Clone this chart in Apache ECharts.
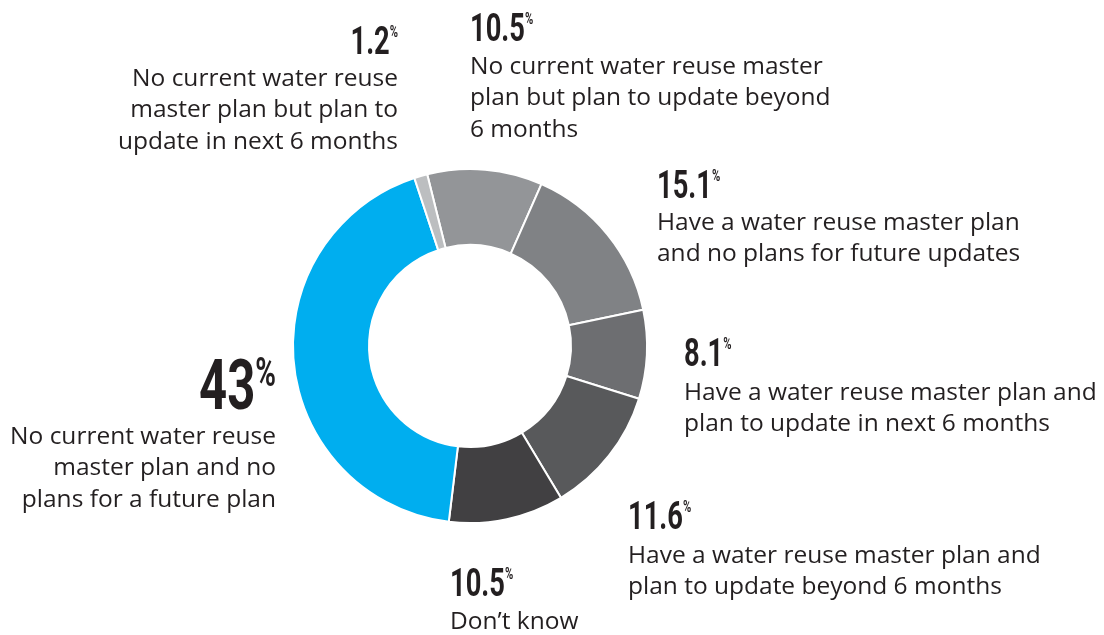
<!DOCTYPE html>
<html>
<head>
<meta charset="utf-8">
<script src="https://cdn.jsdelivr.net/npm/echarts@6/dist/echarts.min.js"></script>
<style>
  html, body { margin: 0; padding: 0; background: #fff; }
  #chart { width: 1104px; height: 635px; }
</style>
</head>
<body>
<div id="chart"></div>
<script>
// data, clockwise from the top
var shares = [10.5, 15.1, 8.1, 11.6, 10.5, 43, 1.2];
var categories = [
  'No current water reuse master\nplan but plan to update beyond\n6 months',
  'Have a water reuse master plan\nand no plans for future updates',
  'Have a water reuse master plan and\nplan to update in next 6 months',
  'Have a water reuse master plan and\nplan to update beyond 6 months',
  'Don\u2019t know',
  'No current water reuse\nmaster plan and no\nplans for a future plan',
  'No current water reuse\nmaster plan but plan to\nupdate in next 6 months'
];
var sliceColors = ['#939598', '#808285', '#6d6e71', '#58595b', '#414042', '#00aeef', '#bcbec0'];

// where each label goes: [x, top of the percentage, top of the text, align]
var labelPos = [
  [470, 15, 51, 'left'],
  [657, 172, 207, 'left'],
  [684, 340, 377, 'left'],
  [628, 503, 540, 'left'],
  [450, 570, 606, 'left'],
  [276, 362, 421, 'right'],
  [398, 28, 63, 'right']
];
var BIG = 5;

var numFont = "Roboto, 'DejaVu Sans', sans-serif";
var txtFont = "'Open Sans', 'Noto Sans', sans-serif";
var ink = '#231f20';

var chart = echarts.init(document.getElementById('chart'));

var pieData = [];
for (var i = 0; i < shares.length; i++) {
  pieData.push({
    name: categories[i],
    value: shares[i],
    itemStyle: { color: sliceColors[i] }
  });
}

// percentages: condensed look via horizontal scaling
var numbers = [];
for (var j = 0; j < shares.length; j++) {
  var big = j === BIG;
  var fs = big ? 70 : 39;
  numbers.push({
    type: 'text',
    x: labelPos[j][0],
    y: labelPos[j][1] - (big ? 6 : 3),
    scaleX: 0.7,
    silent: true,
    style: {
      text: '{n|' + shares[j] + '}{p|%}',
      align: labelPos[j][3],
      verticalAlign: 'top',
      fill: ink,
      rich: {
        n: { fontFamily: numFont, fontWeight: 'bold', fontSize: fs, lineHeight: fs, fill: ink },
        p: { fontFamily: numFont, fontWeight: 'bold', fontSize: big ? 40 : 16,
             lineHeight: big ? 37 : 24, verticalAlign: 'top', fill: ink }
      }
    }
  });
}

chart.setOption({
  backgroundColor: '#ffffff',
  animation: false,
  graphic: { elements: numbers },
  series: [{
    type: 'pie',
    center: [470, 346],
    radius: [101, 177],
    startAngle: 104,
    clockwise: true,
    avoidLabelOverlap: false,
    data: pieData,
    itemStyle: {
      borderColor: '#ffffff',
      borderWidth: 2
    },
    labelLine: { show: false },
    label: {
      show: true,
      position: 'outside',
      color: ink,
      fontFamily: txtFont,
      fontSize: 24.5,
      lineHeight: 31.5,
      formatter: '{b}'
    },
    labelLayout: function (params) {
      var p = labelPos[params.dataIndex];
      return { x: p[0], y: p[2], align: p[3], verticalAlign: 'top' };
    }
  }]
});
</script>
</body>
</html>
